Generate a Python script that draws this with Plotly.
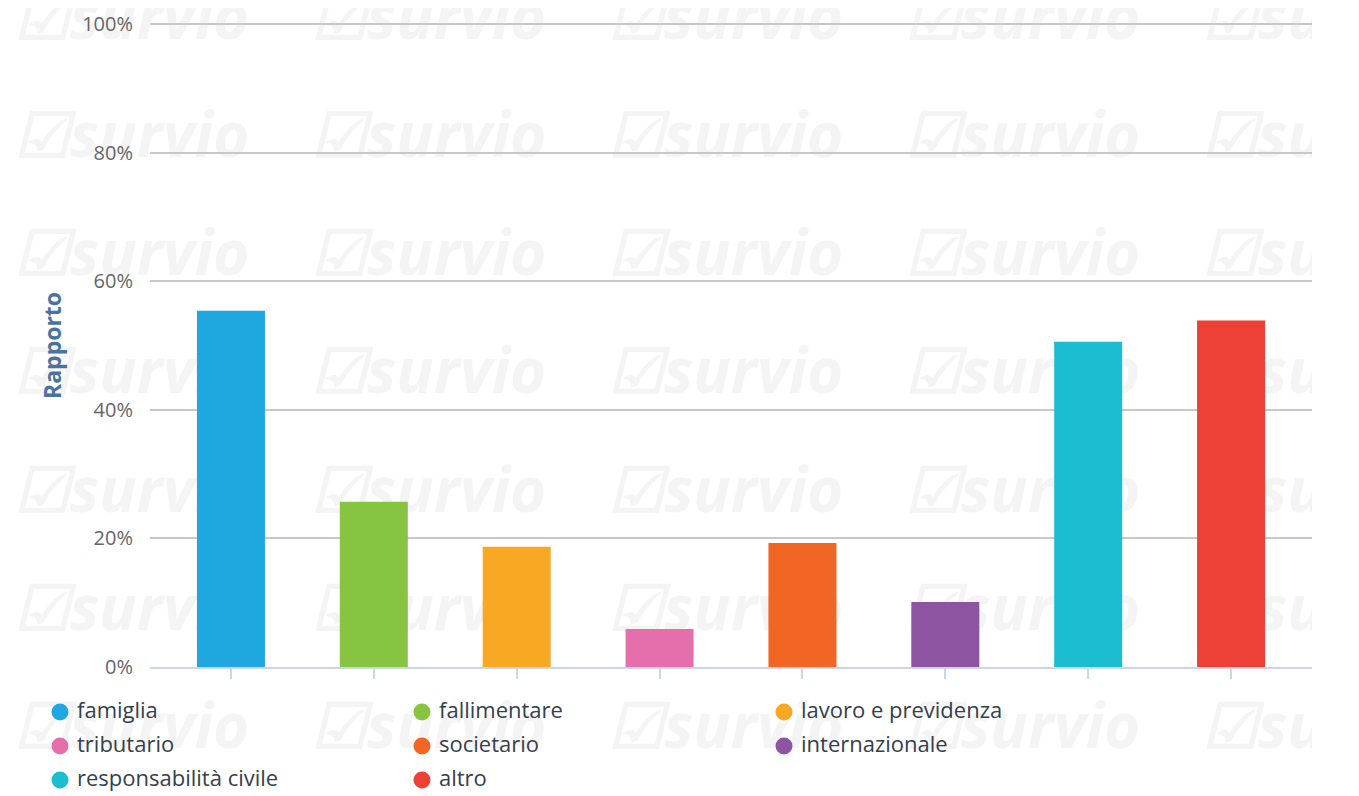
import plotly.graph_objects as go

# ---------------- data ----------------
categories = ["famiglia", "fallimentare", "lavoro e previdenza", "tributario",
              "societario", "internazionale", "responsabilità civile", "altro"]
values = [55.4, 25.7, 18.7, 5.9, 19.3, 10.1, 50.6, 53.9]
colors = ["#1fa7e0", "#86c441", "#f9a824", "#e46faa",
          "#f26624", "#8d54a2", "#1bbdd0", "#ee4135"]
y_ticks = [0, 20, 40, 60, 80, 100]
y_tick_labels = [f"{v}%" for v in y_ticks]

# page geometry (the browser body adds an 8px margin at top/left)
OFF = 8
PAGE_W, PAGE_H = 1359, 796
W, H = PAGE_W - OFF, PAGE_H - OFF
PL, PR, PT, PB = 150, 1312, 24, 667  # plot area in page px (0% .. 100%)
EXTRA = 3                            # px above the 100% line so it is drawn
CLIP_R = 1312                        # watermark right clip, page px


def fx(px):
    return (px - OFF) / W


def fy(py):
    return 1 - (py - OFF) / H


fig = go.Figure()

# ---------------- watermark (decoration, bottom subplot in page px) ----------------
wm_x, wm_y, wm_t = [], [], []
for i in range(5):
    for j in range(7):
        wm_x.append(14 + 297 * i)
        wm_y.append(23 + 118.3 * j)
        wm_t.append("☑survio")
fig.add_trace(go.Scatter(
    x=wm_x, y=wm_y, mode="text", text=wm_t,
    textposition="middle right",
    textfont=dict(family="Open Sans", size=62, color="#f4f4f4",
                  weight="bold", style="italic"),
    hoverinfo="skip", showlegend=False, xaxis="x", yaxis="y",
    cliponaxis=True,
))

# ---------------- legend (drawn in page px, 3 columns) ----------------
leg_x = [60 + 362 * (k % 3) for k in range(len(categories))]
leg_y = [712 + 34 * (k // 3) for k in range(len(categories))]
fig.add_trace(go.Scatter(
    x=leg_x, y=leg_y, mode="markers",
    marker=dict(color=colors, size=17, symbol="circle", line=dict(width=0)),
    hoverinfo="skip", showlegend=False, xaxis="x3", yaxis="y3", cliponaxis=False,
))
fig.add_trace(go.Scatter(
    x=[v + 17 for v in leg_x], y=leg_y, mode="text", text=categories,
    textposition="middle right",
    textfont=dict(family="Open Sans", size=22, color="#35404d"),
    hoverinfo="skip", showlegend=False, xaxis="x3", yaxis="y3", cliponaxis=False,
))

# ---------------- bars ----------------
for cat, val, col in zip(categories, values, colors):
    fig.add_trace(go.Bar(
        x=[cat], y=[val], marker=dict(color=col, line=dict(width=0)),
        width=0.476, name=cat, showlegend=False,
        xaxis="x2", yaxis="y2",
    ))

pad = 9.5 / 142.86
y_top = 100 + EXTRA * 100 / (PB - PT)
hidden = dict(visible=False, showgrid=False, zeroline=False, showline=False,
              ticks="", showticklabels=False, fixedrange=True, automargin=False)
fig.update_layout(
    width=W, height=H,
    margin=dict(l=0, r=0, t=0, b=0, autoexpand=False),
    paper_bgcolor="white",
    plot_bgcolor="rgba(0,0,0,0)",
    barmode="overlay",
    showlegend=False,
    font=dict(family="Open Sans", color="#666666"),
    xaxis=dict(domain=[0, fx(CLIP_R)], range=[OFF, CLIP_R], **hidden),
    yaxis=dict(domain=[0, 1], range=[OFF + H, OFF], **hidden),
    xaxis3=dict(domain=[0, 1], range=[OFF, OFF + W], anchor="y3", **hidden),
    yaxis3=dict(domain=[0, 1], range=[OFF + H, OFF], anchor="x3", **hidden),
    xaxis2=dict(
        domain=[fx(PL), fx(PR)], anchor="y2", type="category",
        categoryorder="array", categoryarray=categories,
        range=[-0.5 - pad, len(categories) - 0.5 + pad],
        showticklabels=False, ticks="outside", ticklen=10, tickwidth=1.5,
        tickcolor="#ccd6eb", showline=True, linecolor="#ccd6eb", linewidth=1.5,
        showgrid=False, zeroline=False, automargin=False,
    ),
    yaxis2=dict(
        domain=[fy(PB), fy(PT - EXTRA)], anchor="x2",
        range=[0, y_top], tickvals=y_ticks, ticktext=y_tick_labels,
        tickfont=dict(size=20, color="#666666"),
        showgrid=True, gridcolor="#c8c8c8", gridwidth=1.5,
        zeroline=False, showline=False, ticks="", ticklabelstandoff=16,
        automargin=False,
    ),
    annotations=[dict(
        text="<b>Rapporto</b>", textangle=-90, x=52, y=346,
        xref="x3", yref="y3", showarrow=False,
        font=dict(size=23, color="#4a72a0", family="Open Sans"),
    )],
)

fig.write_html("out.html")
